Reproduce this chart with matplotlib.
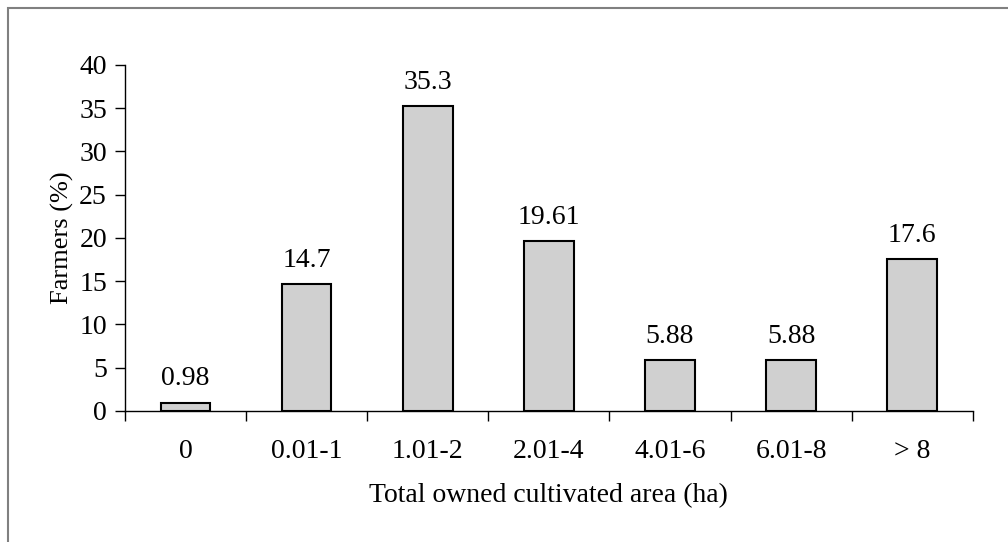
import numpy as np
import matplotlib.pyplot as plt
from matplotlib.patches import Rectangle

plt.rcParams['font.family'] = ['Liberation Serif', 'DejaVu Serif']

categories = ['0', '0.01-1', '1.01-2', '2.01-4', '4.01-6', '6.01-8', '> 8']
farmers_pct = [0.98, 14.7, 35.3, 19.61, 5.88, 5.88, 17.6]
bar_labels = ['0.98', '14.7', '35.3', '19.61', '5.88', '5.88', '17.6']

fs = 20

fig = plt.figure(figsize=(10.08, 5.42), dpi=100)
ax = fig.add_axes([0.124, 0.2417, 0.841, 0.6384])

# outer frame (cut off at right and bottom like the original)
fig.patches.append(Rectangle((8 / 1008, -0.1), 1.2, 1 - 8 / 542 + 0.1,
                             transform=fig.transFigure, fill=False,
                             edgecolor='#808080', linewidth=1.5))

x = np.arange(len(categories))
ax.bar(x, farmers_pct, width=0.41, color='#d0d0d0', edgecolor='black', linewidth=1.5)

for xi, v, lab in zip(x, farmers_pct, bar_labels):
    ax.annotate(lab, (xi, v), xytext=(0, 8), textcoords='offset points',
                ha='center', va='bottom', fontsize=fs)

ax.set_xlim(-0.5, len(categories) - 0.5)
ax.set_ylim(0, 40)
ax.set_yticks(range(0, 41, 5))
ax.set_xticks(x)
ax.set_xticklabels(categories)
ax.set_xticks(np.arange(-0.5, len(categories), 1), minor=True)
ax.tick_params(axis='x', which='major', length=0, pad=20, labelsize=fs)
ax.tick_params(axis='x', which='minor', length=7, width=1, direction='out')
ax.tick_params(axis='y', length=7, width=1, direction='out', pad=6, labelsize=fs)

for s in ['top', 'right']:
    ax.spines[s].set_visible(False)
for s in ['left', 'bottom']:
    ax.spines[s].set_linewidth(1)

ax.set_xlabel('Total owned cultivated area (ha)', fontsize=fs, labelpad=14)
ax.set_ylabel('Farmers (%)', fontsize=19, labelpad=4)

fig.savefig('out.png', dpi=100)
